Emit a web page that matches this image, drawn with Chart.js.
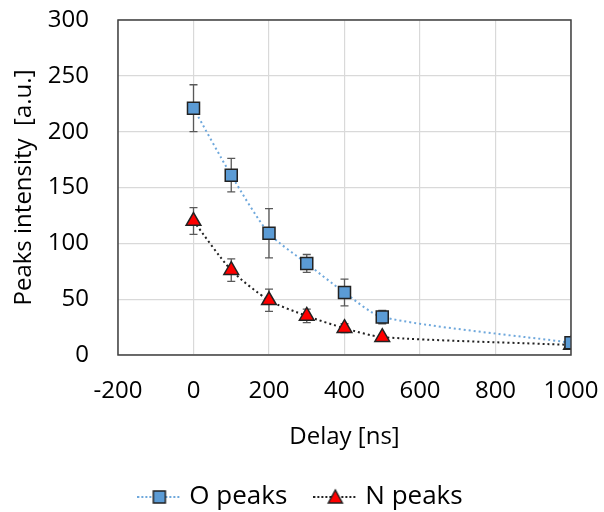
<!DOCTYPE html>
<html>
<head>
<meta charset="utf-8">
<script src="https://cdn.jsdelivr.net/npm/chart.js@4"></script>
<style>
  html, body { margin: 0; padding: 0; background: #fff; }
  #wrap { width: 604px; height: 512px; }
</style>
</head>
<body>
<div id="wrap"><canvas id="peakChart" width="604" height="512"></canvas></div>
<script>
const delays = [0, 100, 200, 300, 400, 500, 1000];
const oPeaks = [221, 161, 109, 82, 56, 34, 11];
const oErr = [21, 15, 22, 8, 12, 6, 0];
const nPeaks = [120, 76, 49, 35, 24, 16, 9];
const nErr = [12, 10, 10, 6, 4, 0, 0];
const xTicks = [-200, 0, 200, 400, 600, 800, 1000];
const yTicks = [0, 50, 100, 150, 200, 250, 300];

const fontFam = "'Open Sans', 'Noto Sans', sans-serif";

// legend icon: dotted line with the marker in the middle
function legendIcon(color, marker) {
    const c = document.createElement('canvas');
    c.width = 44; c.height = 20;
    const g = c.getContext('2d');
    g.strokeStyle = color;
    g.lineWidth = 2;
    g.setLineDash([2, 2]);
    g.beginPath();
    g.moveTo(0, 10); g.lineTo(44, 10);
    g.stroke();
    g.setLineDash([]);
    g.lineWidth = 1.5;
    g.strokeStyle = '#222';
    if (marker == 'square') {
        g.fillStyle = '#5b9bd5';
        g.fillRect(16, 4, 12, 12);
        g.strokeRect(16, 4, 12, 12);
    } else {
        g.fillStyle = '#ff0000';
        g.beginPath();
        g.moveTo(22, 3); g.lineTo(29, 16); g.lineTo(15, 16); g.closePath();
        g.fill(); g.stroke();
    }
    return c;
}

const errorBars = {
    id: 'errorBars',
    beforeDatasetsDraw(chart) {
        const ctx = chart.ctx;
        const xs = chart.scales.x, ys = chart.scales.y;
        const sets = [[oPeaks, oErr], [nPeaks, nErr]];
        ctx.save();
        ctx.strokeStyle = '#595959';
        ctx.lineWidth = 1.3;
        sets.forEach(([vals, errs]) => {
            vals.forEach((v, i) => {
                if (!errs[i]) return;
                const px = xs.getPixelForValue(delays[i]);
                const top = ys.getPixelForValue(v + errs[i]);
                const bot = ys.getPixelForValue(v - errs[i]);
                ctx.beginPath();
                ctx.moveTo(px, top); ctx.lineTo(px, bot);
                ctx.moveTo(px - 4, top); ctx.lineTo(px + 4, top);
                ctx.moveTo(px - 4, bot); ctx.lineTo(px + 4, bot);
                ctx.stroke();
            });
        });
        ctx.restore();
    }
};

const frame = {
    id: 'frame',
    afterDraw(chart) {
        const a = chart.chartArea;
        const ctx = chart.ctx;
        ctx.save();
        ctx.strokeStyle = '#404040';
        ctx.lineWidth = 1.5;
        ctx.strokeRect(a.left, a.top, a.right - a.left, a.bottom - a.top);
        ctx.restore();
    }
};

// nudge the legend down and to the centre of the whole canvas
const legendShift = {
    id: 'legendShift',
    afterLayout(chart) {
        const lg = chart.legend;
        lg.top += 8; lg.bottom += 8;
        lg.left += 17; lg.right += 17;
    }
};

const ctx = document.getElementById('peakChart').getContext('2d');
new Chart(ctx, {
    type: 'line',
    data: {
        datasets: [{
            label: 'O peaks',
            data: delays.map((d, i) => ({ x: d, y: oPeaks[i] })),
            borderColor: '#6fa8dc',
            borderWidth: 2,
            borderDash: [2, 3],
            pointStyle: 'rect',
            pointRadius: 8.5,
            pointBackgroundColor: '#5b9bd5',
            pointBorderColor: '#222',
            pointBorderWidth: 1.5,
            tension: 0.25,
            fill: false
        }, {
            label: 'N peaks',
            data: delays.map((d, i) => ({ x: d, y: nPeaks[i] })),
            borderColor: '#222',
            borderWidth: 2,
            borderDash: [2, 3],
            pointStyle: 'triangle',
            pointRadius: 8.5,
            pointBackgroundColor: '#ff0000',
            pointBorderColor: '#222',
            pointBorderWidth: 1.5,
            tension: 0.25,
            fill: false
        }]
    },
    options: {
        responsive: false,
        animation: false,
        layout: { padding: { left: 0, right: 33, top: 20, bottom: 0 } },
        plugins: {
            legend: {
                position: 'bottom',
                labels: {
                    font: { family: fontFam, size: 26 },
                    color: '#000',
                    usePointStyle: true,
                    pointStyleWidth: 34,
                    padding: 31,
                    generateLabels(chart) {
                        return [
                            { text: 'O peaks', pointStyle: legendIcon('#6fa8dc', 'square'), datasetIndex: 0, fontColor: '#000' },
                            { text: 'N peaks', pointStyle: legendIcon('#222', 'triangle'), datasetIndex: 1, fontColor: '#000' }
                        ];
                    }
                }
            },
            tooltip: { enabled: false }
        },
        scales: {
            x: {
                type: 'linear',
                min: -200, max: 1000,
                afterBuildTicks(axis) { axis.ticks = xTicks.map(v => ({ value: v })); },
                afterFit(axis) { axis.height = 90; axis.paddingLeft = 0; axis.paddingRight = 0; },
                grid: { color: '#d9d9d9', lineWidth: 1.2, drawTicks: false },
                border: { display: false },
                ticks: { font: { family: fontFam, size: 24 }, color: '#000', padding: 22, maxRotation: 0,
                         callback: v => String(v) },
                title: { display: true, text: 'Delay [ns]', font: { family: fontFam, size: 24 }, color: '#000', padding: { top: 14, bottom: -7 } }
            },
            y: {
                min: 0, max: 300,
                afterBuildTicks(axis) { axis.ticks = yTicks.map(v => ({ value: v })); },
                afterFit(axis) { axis.width = 118; axis.paddingTop = 0; axis.paddingBottom = 0; },
                grid: { color: '#d9d9d9', lineWidth: 1.2, drawTicks: false },
                border: { display: false },
                ticks: { font: { family: fontFam, size: 24 }, color: '#000', padding: 29,
                         callback: v => String(v) },
                title: { display: true, text: 'Peaks intensity  [a.u.]', font: { family: fontFam, size: 24 }, color: '#000', padding: { top: 10, bottom: 4 } }
            }
        }
    },
    plugins: [errorBars, frame, legendShift]
});
</script>
</body>
</html>
